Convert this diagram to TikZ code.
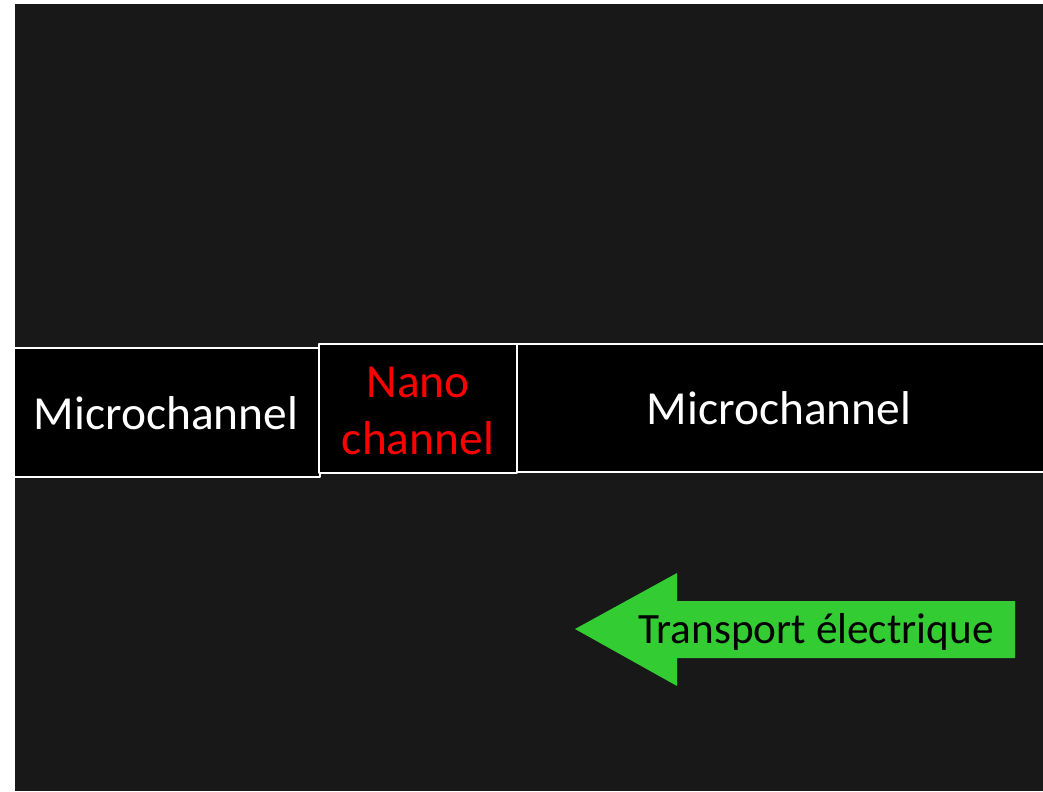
\documentclass[tikz,border=0pt]{standalone}
\usepackage{fontspec}
\setmainfont{Carlito}
\definecolor{bgdark}{RGB}{24,24,24}
\definecolor{ffqqqq}{RGB}{255,0,0}
\definecolor{zzccqq}{RGB}{51,204,51}
\tikzset{
  chan/.style={draw=white,line width=0.9pt,fill=black},
  lbl/.style={inner sep=0pt,font=\fontsize{27}{32.5}\selectfont}
}
\begin{document}
\begin{tikzpicture}[line cap=round,line join=round,x=0.02cm,y=-0.02cm]
		\useasboundingbox (0,0) rectangle (1043,791);
		\clip (0,0) rectangle (1043,791);
		\fill [color=bgdark] (15,4) rectangle (1043,791);
		% channels
		\draw [chan] (14,348) rectangle (320,477);
		\draw [chan] (517,344) rectangle (1060,472);
		\draw [chan] (319,344) rectangle (517,473);
		\node (microL) [lbl,anchor=base,text=white] at (166,429) {Microchannel};
		\node (microR) [lbl,anchor=base,text=white] at (779,424) {Microchannel};
		\node (nano) [lbl,align=center,text=ffqqqq] at (418,411) {Nano\\channel};
		% arrow
		\fill [color=zzccqq] (575,629) -- (677,573) -- (677,601) -- (1015,601) -- (1015,658) -- (677,658) -- (677,686) -- cycle;
		\node (transport) [lbl,anchor=base,text=black,font=\fontsize{24.6}{30}\selectfont] at (816,643) {Transport électrique};
	\end{tikzpicture}
\end{document}
